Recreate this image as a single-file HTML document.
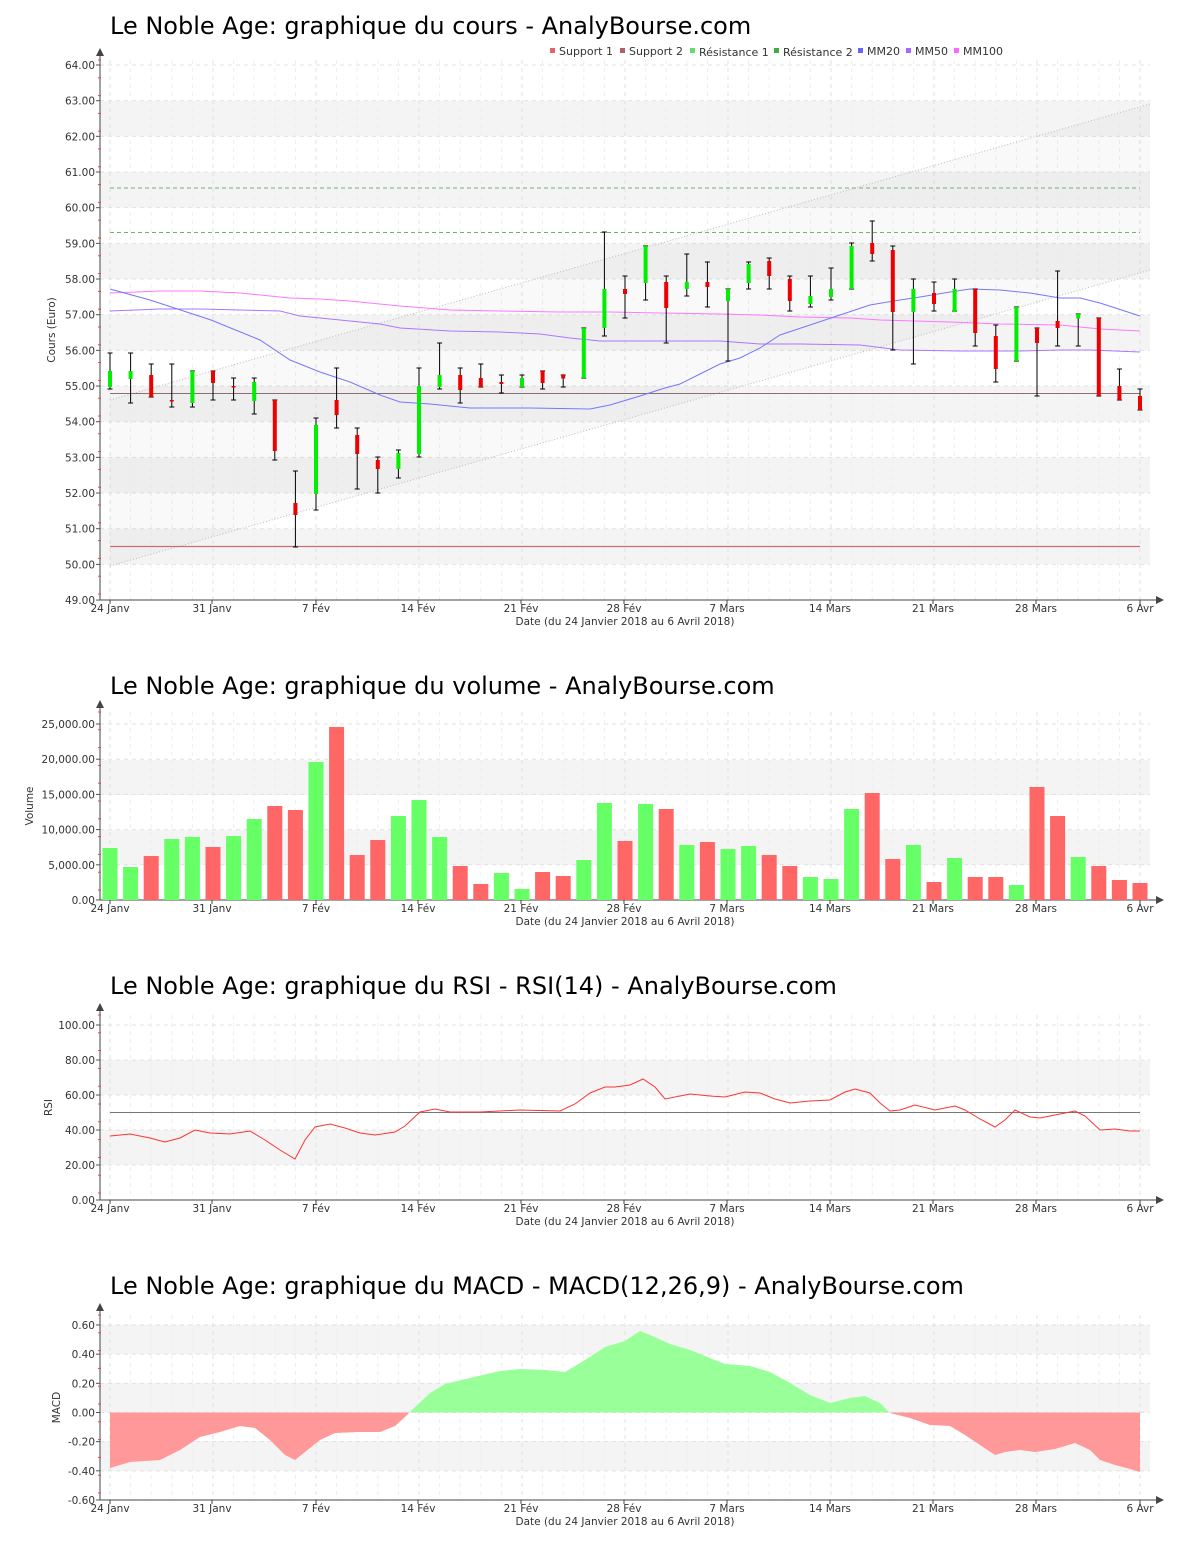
<!DOCTYPE html>
<html><head><meta charset="utf-8"><style>
body{margin:0;background:#fff;width:1200px;height:1550px;overflow:hidden}
svg{display:block;font-family:"DejaVu Sans","Liberation Sans",sans-serif}
</style></head><body>
<svg id="s" width="1200" height="1550" xmlns="http://www.w3.org/2000/svg">
<text x="110" y="34" font-size="24" fill="#000">Le Noble Age: graphique du cours - AnalyBourse.com</text>
<text x="110" y="694" font-size="24" fill="#000">Le Noble Age: graphique du volume - AnalyBourse.com</text>
<text x="110" y="994" font-size="24" fill="#000">Le Noble Age: graphique du RSI - RSI(14) - AnalyBourse.com</text>
<text x="110" y="1294" font-size="24" fill="#000">Le Noble Age: graphique du MACD - MACD(12,26,9) - AnalyBourse.com</text>
<g font-size="11" fill="#333">
<rect x="550" y="48" width="5" height="5" fill="#e06666"/><text x="559" y="55">Support 1</text>
<rect x="620" y="48" width="5" height="5" fill="#b06060"/><text x="629" y="55">Support 2</text>
<rect x="690" y="48" width="5" height="5" fill="#66dd66"/><text x="699" y="56">Résistance 1</text>
<rect x="774" y="48" width="5" height="5" fill="#44aa44"/><text x="783" y="56">Résistance 2</text>
<rect x="858" y="48" width="5" height="5" fill="#6666ff"/><text x="867" y="55">MM20</text>
<rect x="906" y="48" width="5" height="5" fill="#aa66ff"/><text x="915" y="55">MM50</text>
<rect x="954" y="48" width="5" height="5" fill="#ff66ff"/><text x="963" y="55">MM100</text>
</g>
<g id="g"></g>
</svg>
<script>
var NS="http://www.w3.org/2000/svg",G=document.getElementById('g');
function el(t,a,txt){var e=document.createElementNS(NS,t);for(var k in a)e.setAttribute(k,a[k]);if(txt!=null)e.textContent=txt;G.appendChild(e);return e;}
var dates=[["24 Janv",110],["31 Janv",212],["7 Fév",316],["14 Fév",418],["21 Fév",521],["28 Fév",624],["7 Mars",727],["14 Mars",830],["21 Mars",933],["28 Mars",1036],["6 Avr",1140]];
function X(i){return 110+i*20.6;}
function frame(top,bottom,ticks,bands,ylabel,ylx){
  bands.forEach(function(b){el('rect',{x:100,y:b[0],width:1050,height:b[1]-b[0],fill:'#f4f4f4'});});
  ticks.forEach(function(t){el('line',{x1:100,x2:1150,y1:t[0],y2:t[0],stroke:'#e2e2e2','stroke-dasharray':'4,4'});
    el('text',{x:95,y:t[0]+4,'font-size':10.5,'text-anchor':'end',fill:'#333'},t[1]);
    el('line',{x1:96,x2:100,y1:t[0],y2:t[0],stroke:'#555'});});
  for(var i=0;i<51;i++){el('line',{x1:X(i),x2:X(i),y1:top,y2:bottom,stroke:(i%5==0)?'#e0e0e0':'#efefef','stroke-dasharray':'4,4'});}
  el('line',{x1:100,x2:100,y1:top-10,y2:bottom,stroke:'#444'});
  el('path',{d:'M96,'+(top-4)+' L100,'+(top-12)+' L104,'+(top-4)+'Z',fill:'#444'});
  el('line',{x1:100,x2:1160,y1:bottom,y2:bottom,stroke:'#444'});
  el('path',{d:'M1156,'+(bottom-4)+' L1164,'+bottom+' L1156,'+(bottom+4)+'Z',fill:'#444'});
  for(var y=top;y<bottom;y+=17.8){el('line',{x1:98,x2:101,y1:y,y2:y,stroke:'#e44'});}
  dates.forEach(function(d){el('line',{x1:d[1],x2:d[1],y1:bottom,y2:bottom+4,stroke:'#444'});
    el('text',{x:d[1],y:bottom+12,'font-size':10.5,'text-anchor':'middle',fill:'#333'},d[0]);});
  el('text',{x:625,y:bottom+25,'font-size':10.5,'text-anchor':'middle',fill:'#333'},'Date (du 24 Janvier 2018 au 6 Avril 2018)');
  var cy=(top+bottom)/2;
  el('text',{x:ylx,y:cy,'font-size':10.5,'text-anchor':'middle',fill:'#333',transform:'rotate(-90 '+ylx+' '+cy+')'},ylabel);
}
function poly(pts,attrs){attrs.points=pts.map(function(p){return p.join(',')}).join(' ');return el('polyline',attrs);}
// PRICE
var pt=[],pb=[];
for(var v=49;v<=64;v++){pt.push([65+(64-v)*35.67,v.toFixed(2)]);}
for(var v=63;v>50;v-=2){pb.push([65+(64-v)*35.67,65+(65-v)*35.67]);}
frame(60,600,pt,pb,'Cours (Euro)',55);
el('polygon',{points:'110,400 1150,104 1150,270 110,566',fill:'rgba(0,0,0,0.025)'});
el('line',{x1:110,y1:400,x2:1150,y2:104,stroke:'#bbb','stroke-dasharray':'1,2'});
el('line',{x1:110,y1:566,x2:1150,y2:270,stroke:'#bbb','stroke-dasharray':'1,2'});
el('line',{x1:110,x2:1140,y1:546.5,y2:546.5,stroke:'#c87070','stroke-width':1.3});
el('line',{x1:110,x2:1140,y1:393.5,y2:393.5,stroke:'#887070','stroke-width':1});
el('line',{x1:110,x2:1140,y1:188,y2:188,stroke:'#66bb66','stroke-dasharray':'4,3'});
el('line',{x1:110,x2:1140,y1:232.5,y2:232.5,stroke:'#66bb66','stroke-dasharray':'4,3'});
poly([[110,293],[160,291],[200,291],[240,293],[290,298],[320,299],[350,301],[400,306],[450,310],[500,311],[560,312],[610,312],[660,313],[720,314],[760,315],[800,317],[850,318],[880,320],[950,322],[1000,324],[1060,325],[1100,329],[1140,331]],{fill:'none',stroke:'#ff77ff','stroke-width':1});
poly([[110,311],[160,309],[200,309],[280,311],[300,316],[340,320],[380,324],[400,328],[450,331],[500,332],[540,334],[570,338],[600,341],[640,341],[680,341],[720,341],[760,344],[800,344],[860,345],[900,350],[960,351],[1020,351],[1060,350],[1090,350],[1140,352]],{fill:'none',stroke:'#aa77ff','stroke-width':1});
poly([[110,289],[150,300],[211,320],[260,340],[290,360],[320,372],[350,382],[380,395],[400,402],[430,404],[470,408],[530,408],[590,409],[610,405],[640,396],[665,388],[680,384],[700,374],[720,364],[740,358],[760,348],[780,335],[810,325],[840,315],[870,305],[900,300],[920,297],[950,292],[970,289],[1000,290],[1030,293],[1060,298],[1080,298],[1100,303],[1140,316]],{fill:'none',stroke:'#7777ff','stroke-width':1});
var C=[[353,389,371,387,'g'],[353,403,371,379,'g'],[364,397,375,397,'r'],[364,407,400,401.5,'r'],[371,407,371,403,'g'],[371,400,371,383,'r'],[378,400,386,387,'r'],[378,414,382,401,'g'],[400,460,400,451,'r'],[471,547,503,515,'r'],[418,510,425,494,'g'],[368,428,400,415,'r'],[428,489,435,454,'r'],[457,493,460,469,'r'],[450,478,453,469,'g'],[368,457,386,454,'g'],[343,389,375,387,'g'],[368,403,375,390,'r'],[364,387,378,387,'r'],[375,393,382,384,'r'],[375,387,378,387,'g'],[371,389,371,383,'r'],[375,387,375,378.5,'r'],[328,378,328,378,'g'],[232,336,289,328,'g'],[276,318,289,294,'r'],[246,300,246,283,'g'],[276,343,282,308,'r'],[254,296,282,289,'g'],[262,307,282,287,'r'],[289,361,289,301,'g'],[262,289,264,283,'g'],[258,289,261,276,'r'],[276,311,279,301,'r'],[276,307,296,304,'g'],[268,300,289,297,'g'],[243,289,246,289,'g'],[221,261,243,254,'r'],[246,350,250,312,'r'],[279,364,289,312,'g'],[282,311,293,304,'r'],[279,311,289,312,'g'],[289,346,289,333,'r'],[325,382,336,369,'r'],[307,361,307,361,'g'],[328,396,328,343,'r'],[271,346,321,328,'r'],[314,346,314,318.5,'g'],[318,396,318,396,'r'],[369,400,386,400,'r'],[389,410,396,410,'r']];
C.forEach(function(c,i){var x=X(i);
 el('line',{x1:x,x2:x,y1:c[0],y2:c[1],stroke:'#000'});
 el('line',{x1:x-2.5,x2:x+2.5,y1:c[0],y2:c[0],stroke:'#000'});
 el('line',{x1:x-2.5,x2:x+2.5,y1:c[1],y2:c[1],stroke:'#000'});
 el('rect',{x:x-2,y:c[2],width:4,height:Math.max(1.5,c[3]-c[2]),fill:c[4]=='g'?'#00ee00':'#ee0000'});});
// VOLUME
var vt=[],vb=[[760,795],[830,865]];
for(var k=0;k<=5;k++){vt.push([900-k*35.2,(k*5000).toLocaleString('en-US')+'.00']);}
frame(712,900,vt,vb,'Volume',33);
var V=[[848,'g'],[867,'g'],[856,'r'],[839,'g'],[837,'g'],[847,'r'],[836,'g'],[819,'g'],[806,'r'],[810,'r'],[762,'g'],[727,'r'],[855,'r'],[840,'r'],[816,'g'],[800,'g'],[837,'g'],[866,'r'],[884,'r'],[873,'g'],[889,'g'],[872,'r'],[876,'r'],[860,'g'],[803,'g'],[841,'r'],[804,'g'],[809,'r'],[845,'g'],[842,'r'],[849,'g'],[846,'g'],[855,'r'],[866,'r'],[877,'g'],[879,'g'],[809,'g'],[793,'r'],[859,'r'],[845,'g'],[882,'r'],[858,'g'],[877,'r'],[877,'r'],[885,'g'],[787,'r'],[816,'r'],[857,'g'],[866,'r'],[880,'r'],[883,'r']];
V.forEach(function(v,i){el('rect',{x:X(i)-7.5,y:v[0],width:15,height:900-v[0],fill:v[1]=='g'?'#66ff66':'#ff6666'});});
// RSI
var rt=[];for(var k=0;k<=5;k++){rt.push([1200-k*35,(k*20).toFixed(2)]);}
frame(1015,1200,rt,[[1060,1095],[1130,1165]],'RSI',52);
el('line',{x1:110,x2:1140,y1:1112.5,y2:1112.5,stroke:'#777'});
poly([[110,1136],[130,1134],[150,1138],[165,1142],[180,1138],[195,1130],[210,1133],[230,1134],[250,1131],[265,1140],[280,1150],[295,1159],[305,1140],[315,1127],[330,1124],[345,1128],[360,1133],[375,1135],[395,1132],[405,1126],[420,1112],[435,1109],[450,1112],[480,1112],[520,1110],[560,1111],[575,1104],[590,1093],[605,1087],[615,1087],[630,1085],[643,1079],[655,1087],[665,1099],[680,1096],[690,1094],[710,1096],[725,1097],[745,1092],[760,1093],[775,1099],[790,1103],[810,1101],[830,1100],[845,1092],[855,1089],[870,1093],[880,1103],[890,1111],[900,1110],[915,1105],[935,1110],[955,1106],[965,1110],[980,1119],[995,1127],[1005,1120],[1015,1110],[1030,1117],[1040,1118],[1060,1114],[1075,1111],[1085,1116],[1100,1130],[1115,1129],[1130,1131],[1140,1131]],{fill:'none',stroke:'#ff3333','stroke-width':1});
// MACD
var mt=[];for(var k=0;k<=6;k++){var v=-0.6+k*0.2;mt.push([1500-k*29.17,v.toFixed(2).replace('-0.00','0.00')]);}
frame(1315,1500,mt,[[1325,1354],[1383,1412.5],[1441,1471]],'MACD',60);
var M=[[110,1468],[130,1462],[160,1460],[180,1450],[200,1437],[220,1432],[240,1426],[255,1428],[270,1440],[285,1455],[295,1460],[305,1452],[320,1440],[335,1433],[360,1432],[380,1432],[395,1426],[405,1417],[415,1407],[430,1393],[445,1384],[470,1378],[500,1371],[520,1369],[545,1370],[565,1372],[585,1360],[605,1347],[625,1341],[640,1331],[650,1335],[670,1344],[690,1350],[710,1358],[725,1364],[750,1366],[770,1372],[790,1383],[810,1395],[830,1403],[850,1398],[865,1396],[880,1403],[890,1413],[910,1418],[930,1425],[950,1426],[965,1435],[980,1445],[995,1455],[1005,1452],[1020,1450],[1035,1452],[1055,1449],[1075,1443],[1090,1450],[1100,1460],[1115,1465],[1130,1469],[1140,1472]];
var d='M110,1412.5 '+M.map(function(p){return 'L'+p[0]+','+p[1]}).join(' ')+' L1140,1412.5Z';
var defs=el('defs',{});
var c1=document.createElementNS(NS,'clipPath');c1.setAttribute('id','up');var r1=document.createElementNS(NS,'rect');r1.setAttribute('x',0);r1.setAttribute('y',0);r1.setAttribute('width',1200);r1.setAttribute('height',1412.5);c1.appendChild(r1);defs.appendChild(c1);
var c2=document.createElementNS(NS,'clipPath');c2.setAttribute('id','dn');var r2=document.createElementNS(NS,'rect');r2.setAttribute('x',0);r2.setAttribute('y',1412.5);r2.setAttribute('width',1200);r2.setAttribute('height',200);c2.appendChild(r2);defs.appendChild(c2);
el('path',{d:d,fill:'#99ff99','clip-path':'url(#up)'});
el('path',{d:d,fill:'#ff9999','clip-path':'url(#dn)'});
</script>
</body></html>
